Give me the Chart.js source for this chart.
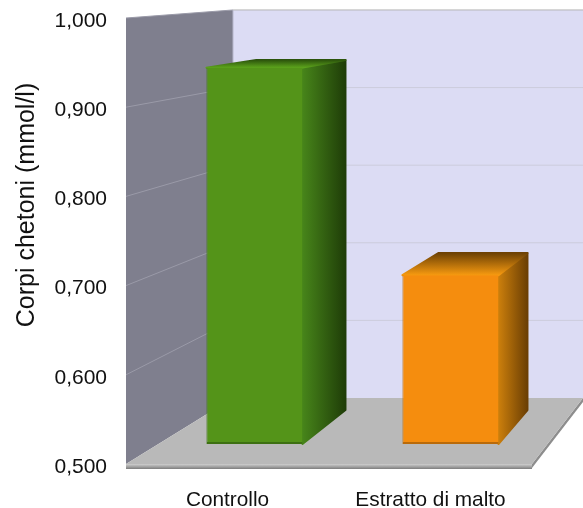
<!DOCTYPE html>
<html>
<head>
<meta charset="utf-8">
<style>
  html, body { margin: 0; padding: 0; background: #fff; }
  canvas { display: block; }
</style>
<script src="https://cdn.jsdelivr.net/npm/chart.js@4"></script>
</head>
<body>
<canvas id="chetoniChart" width="583" height="508"></canvas>
<script>
const categories = ['Controllo', 'Estratto di malto'];
const chetoni = [0.937, 0.696];
const yTickLabels = ['0,500', '0,600', '0,700', '0,800', '0,900', '1,000'];
const yTitle = 'Corpi chetoni (mmol/l)';
const frontColors = ['#549419', '#f58d0e'];
const edgeColors = ['#3d7012', '#b96a0a'];
const sideColors = [['#47851a', '#1f3d08'], ['#cc7f0c', '#6b3f04']];
const topColors = [['#5ca31c', '#2c540c'], ['#f79a10', '#6e4204']];

// chart px -> plane of the bar fronts
const barPlane = { sx: 0.9655, ox: 34.8, sy: 0.9655, oy: -4 };
// bar front plane -> plane of the bar backs
const barBack = { sx: 0.9286, ox: 64.6, sy: 0.93, oy: -2.9 };
// chart px -> back wall
const wallBack = { sx: 0.862, ox: 124.4, sy: 0.87, oy: -5.7 };

const mapPt = (p, x, y) => [p.ox + p.sx * x, p.oy + p.sy * y];

function poly(ctx, pts, fill) {
    ctx.beginPath();
    pts.forEach((p, i) => i ? ctx.lineTo(p[0], p[1]) : ctx.moveTo(p[0], p[1]));
    ctx.closePath();
    if (fill) { ctx.fillStyle = fill; ctx.fill(); }
}

function line(ctx, a, b, color) {
    ctx.beginPath();
    ctx.moveTo(a[0], a[1]);
    ctx.lineTo(b[0], b[1]);
    ctx.strokeStyle = color;
    ctx.lineWidth = 1;
    ctx.stroke();
}

const room3d = {
    id: 'room3d',
    beforeDatasetsDraw(chart) {
        const { ctx, chartArea: a, scales: { y } } = chart;
        const tl = [a.left, a.top], bl = [a.left, a.bottom], br = [a.right, a.bottom];
        const btl = mapPt(wallBack, a.left, a.top), bbl = mapPt(wallBack, a.left, a.bottom);
        const btr = mapPt(wallBack, a.right, a.top), bbr = mapPt(wallBack, a.right, a.bottom);
        ctx.save();

        // back wall and side wall
        poly(ctx, [btl, btr, bbr, bbl], '#dcdcf4');
        poly(ctx, [tl, btl, bbl, bl], '#7f7f8e');

        // grid lines on the two walls
        y.ticks.forEach(t => {
            const py = y.getPixelForValue(t.value);
            if (t.value <= 0.5) return;
            const b = mapPt(wallBack, a.left, py);
            const r = mapPt(wallBack, a.right, py);
            line(ctx, [a.left, py], b, '#9a9aa8');
            line(ctx, b, r, t.value >= 1 ? '#b4b4b4' : '#ccccdc');
        });
        line(ctx, btl, bbl, '#b9b9cc');

        // floor with its lip
        poly(ctx, [[br[0], br[1] + 4], [bbr[0], bbr[1] + 4], bbr, br], '#8d8d8d');
        const lip = ctx.createLinearGradient(0, a.bottom, 0, a.bottom + 5);
        lip.addColorStop(0, '#cfcfcf');
        lip.addColorStop(1, '#7d7d7d');
        poly(ctx, [bl, br, [br[0], br[1] + 5], [bl[0], bl[1] + 5]], lip);
        poly(ctx, [bl, br, bbr, bbl], '#b9b9b9');

        // top and side of each bar, behind the front face
        chart.getDatasetMeta(0).data.forEach((bar, i) => {
            const half = bar.width / 2;
            const fl = mapPt(barPlane, bar.x - half, bar.y);
            const fr = mapPt(barPlane, bar.x + half, bar.y);
            const fb = mapPt(barPlane, bar.x + half, bar.base);
            const kl = mapPt(barBack, fl[0], fl[1]);
            const kr = mapPt(barBack, fr[0], fr[1]);
            const kb = mapPt(barBack, fb[0], fb[1]);
            ctx.lineJoin = 'round';

            const side = ctx.createLinearGradient(fr[0], 0, kr[0], 0);
            side.addColorStop(0, sideColors[i][0]);
            side.addColorStop(1, sideColors[i][1]);
            poly(ctx, [fr, kr, kb, fb], side);
            ctx.strokeStyle = side;
            ctx.lineWidth = 2;
            ctx.stroke();

            const top = ctx.createLinearGradient(0, fl[1], 0, kl[1]);
            top.addColorStop(0, topColors[i][0]);
            top.addColorStop(1, topColors[i][1]);
            poly(ctx, [fl, kl, kr, fr], top);
            ctx.strokeStyle = top;
            ctx.lineWidth = 2;
            ctx.stroke();
        });
        ctx.restore();

        // front faces are drawn by Chart.js in the bar plane
        ctx.save();
        ctx.transform(barPlane.sx, 0, 0, barPlane.sy, barPlane.ox, barPlane.oy);
    },
    afterDatasetsDraw(chart) {
        chart.ctx.restore();
    },
    // axis title sits off centre in the original, the scale title can't do that
    afterDraw(chart) {
        const { ctx } = chart;
        ctx.save();
        ctx.translate(27, 205);
        ctx.rotate(-Math.PI / 2);
        ctx.font = "25px 'Liberation Sans', sans-serif";
        ctx.fillStyle = '#111';
        ctx.textAlign = 'center';
        ctx.textBaseline = 'middle';
        ctx.fillText(yTitle, 0, 0);
        ctx.restore();
    }
};

new Chart(document.getElementById('chetoniChart').getContext('2d'), {
    type: 'bar',
    data: {
        labels: categories,
        datasets: [{
            label: yTitle,
            data: chetoni,
            base: 0.5,
            backgroundColor: frontColors,
            borderColor: edgeColors,
            borderWidth: { top: 0, left: 1, right: 0, bottom: 2 },
            borderSkipped: false,
            barPercentage: 0.49,
            categoryPercentage: 1,
            clip: false
        }]
    },
    plugins: [room3d],
    options: {
        responsive: false,
        animation: false,
        layout: { padding: { top: 18, right: 51, left: 0, bottom: 0 } },
        plugins: { legend: { display: false }, tooltip: { enabled: false } },
        scales: {
            x: {
                grid: { display: false, drawTicks: false },
                border: { display: false },
                ticks: {
                    padding: 24,
                    color: '#111',
                    maxRotation: 0,
                    font: { family: "'Liberation Sans', sans-serif", size: 20.8 }
                },
                afterFit: (s) => { s.height = 44; s.paddingLeft = 0; s.paddingRight = 0; }
            },
            y: {
                min: 0.5,
                max: 1,
                grid: { display: false, drawTicks: false },
                border: { display: false },
                ticks: {
                    stepSize: 0.1,
                    padding: 19,
                    labelOffset: 3,
                    color: '#111',
                    font: { family: "'Liberation Sans', sans-serif", size: 21 },
                    callback: (v, i) => yTickLabels[i]
                },
                afterFit: (s) => { s.width = 126; s.paddingTop = 0; s.paddingBottom = 0; }
            }
        }
    }
});
</script>
</body>
</html>
